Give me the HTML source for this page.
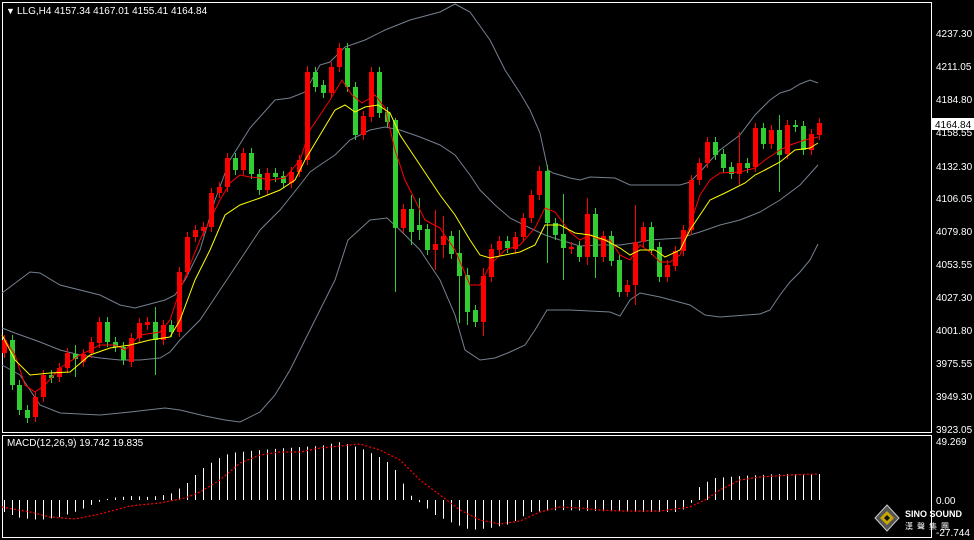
<!DOCTYPE html>
<html><head><meta charset="utf-8"><style>
html,body{margin:0;padding:0;background:#000;width:974px;height:540px;overflow:hidden}
svg{display:block}
text{font-family:"Liberation Sans","Noto Sans CJK TC",sans-serif}
</style></head><body>
<svg id="s" width="974" height="540" xmlns="http://www.w3.org/2000/svg">
<rect width="974" height="540" fill="#000"/>
<rect x="2.5" y="2.5" width="929" height="430" fill="none" stroke="#fff" stroke-width="1"/>
<rect x="2.5" y="435.5" width="929" height="102" fill="none" stroke="#fff" stroke-width="1"/>
<g id="g"></g>
<text x="6" y="14" fill="#fff" font-size="9">▼</text>
<text x="17" y="14" fill="#fff" font-size="10">LLG,H4  4157.34 4167.01 4155.41 4164.84</text>
<text x="7" y="446" fill="#fff" font-size="10">MACD(12,26,9) 19.742 19.835</text>
<g fill="#fff" font-size="10">
<text x="936" y="37">4237.30</text><text x="936" y="70">4211.05</text><text x="936" y="103">4184.80</text>
<text x="936" y="136">4158.55</text><text x="936" y="170">4132.30</text><text x="936" y="202">4106.05</text>
<text x="936" y="235">4079.80</text><text x="936" y="268">4053.55</text><text x="936" y="301">4027.30</text>
<text x="936" y="334">4001.80</text><text x="936" y="367">3975.55</text><text x="936" y="400">3949.30</text>
<text x="936" y="433">3923.05</text>
<text x="936" y="445">49.269</text><text x="936" y="504">0.00</text><text x="936" y="536">-27.744</text>
</g>
<rect x="932" y="118" width="42" height="12" fill="#fff"/>
<text x="935" y="128" fill="#000" font-size="10">4164.84</text>
<g transform="translate(887,518)">
<polygon points="0,-13 12,0 0,13 -12,0" fill="#555" stroke="#ccc" stroke-width="1"/>
<polygon points="0,-7 7,0 0,7 -7,0" fill="#c8a800"/>
<polygon points="0,-3 3,0 0,3 -3,0" fill="#111"/>
</g>
<text x="905" y="517" fill="#fff" font-size="9" font-weight="bold">SINO SOUND</text>
<text x="905" y="529" fill="#fff" font-size="8" letter-spacing="4">漢聲集團</text>
</svg>
<script>
var C=[
[4,340,353,'r'],[12,340,385,'g'],[19,385,410,'g'],[27,410,418,'g'],[35,397,417,'r'],[43,375,397,'r'],[51,375,378,'g'],[59,368,377,'r'],[67,353,368,'r'],[75,354,359,'g'],[83,354,362,'r'],[91,342,353,'r'],[99,322,343,'r'],[107,322,342,'g'],[115,342,347,'g'],[123,347,360,'g'],[131,338,362,'r'],[139,323,338,'r'],[147,322,325,'r'],[155,322,340,'g'],[163,325,340,'r'],[171,325,332,'g'],[179,272,332,'r'],[187,237,272,'r'],[195,230,237,'r'],[203,227,231,'r'],[211,193,227,'r'],[219,187,193,'r'],[227,158,187,'r'],[235,158,170,'g'],[243,153,170,'r'],[251,153,174,'g'],[259,174,190,'g'],[267,173,190,'r'],[275,173,177,'g'],[283,176,183,'g'],[291,172,183,'r'],[299,160,172,'r'],[307,72,160,'r'],[315,72,87,'g'],[323,85,93,'g'],[331,67,93,'r'],[339,48,67,'r'],[347,48,87,'g'],[355,87,135,'g'],[363,116,135,'r'],[371,72,117,'r'],[379,72,113,'g'],[387,112,122,'g'],[395,120,228,'g'],[403,209,228,'r'],[411,209,232,'g'],[419,225,230,'g'],[427,229,250,'g'],[435,244,250,'r'],[443,236,245,'r'],[451,236,254,'g'],[459,253,276,'g'],[467,275,312,'g'],[475,310,322,'g'],[483,276,322,'r'],[491,249,277,'r'],[499,241,250,'r'],[507,241,248,'g'],[515,237,249,'r'],[523,218,237,'r'],[531,195,218,'r'],[539,171,195,'r'],[547,171,223,'g'],[555,223,235,'g'],[563,234,248,'g'],[571,247,249,'r'],[579,246,257,'g'],[587,214,257,'r'],[595,214,257,'g'],[603,236,257,'r'],[611,236,261,'g'],[619,260,292,'g'],[627,285,292,'r'],[635,242,285,'r'],[643,227,242,'r'],[651,227,250,'g'],[659,247,277,'g'],[667,265,277,'r'],[675,251,266,'r'],[683,230,251,'r'],[691,180,230,'r'],[699,163,180,'r'],[707,142,163,'r'],[715,142,155,'g'],[723,154,168,'g'],[731,167,174,'g'],[739,163,174,'r'],[747,163,168,'g'],[755,128,167,'r'],[763,128,144,'g'],[771,130,144,'r'],[779,130,155,'g'],[787,125,154,'r'],[795,125,127,'g'],[803,126,150,'g'],[811,134,150,'r'],[819,123,135,'r']];
var W={395:[118,292],343:[23,100],307:[66,165],411:[195,245],419:[198,240],435:[210,270],443:[216,258],547:[165,263],563:[194,280],587:[198,265],595:[208,278],459:[230,323],467:[268,325],483:[268,336],635:[205,305],155:[307,375],75:[345,377],779:[115,192],739:[132,185]};
function pl(p,c,w,d){return '<polyline fill="none" stroke="'+c+'" stroke-width="'+w+'"'+(d?' stroke-dasharray="'+d+'"':'')+' points="'+p.map(function(a){return a.join(',')}).join(' ')+'"/>';}
var up=[[2,293],[30,272],[40,273],[60,285],[100,295],[120,305],[135,308],[150,304],[165,300],[175,295],[185,280],[200,250],[215,200],[230,160],[250,128],[275,100],[290,98],[305,92],[320,65],[330,62],[345,47],[365,40],[385,30],[410,20],[440,12],[455,4],[470,12],[490,40],[505,70],[520,93],[530,110],[540,133],[548,170],[553,173],[570,178],[580,180],[590,177],[615,178],[630,185],[640,185],[680,185],[690,182],[700,172],[720,150],[740,135],[755,115],[770,100],[780,93],[790,90],[800,84],[810,80],[818,83]];
var mid=[[2,328],[15,333],[40,342],[60,350],[80,355],[100,358],[120,360],[140,360],[160,358],[170,352],[180,340],[200,320],[220,290],[240,260],[260,230],[280,210],[300,185],[310,172],[320,165],[335,155],[350,140],[370,130],[385,127],[400,130],[420,137],[440,145],[455,155],[470,175],[480,190],[495,205],[510,218],[530,228],[545,235],[560,240],[580,246],[600,245],[620,245],[640,242],[650,240],[680,238],[700,232],[720,225],[740,220],[760,212],[780,200],[800,185],[818,165]];
var lo=[[2,365],[20,375],[40,405],[60,413],[100,415],[130,412],[165,408],[180,410],[205,416],[225,420],[240,422],[260,412],[275,395],[290,370],[305,340],[320,310],[335,280],[348,240],[370,220],[387,218],[400,230],[420,250],[440,280],[455,315],[465,350],[480,360],[495,358],[510,352],[525,345],[535,330],[547,310],[570,310],[590,311],[610,312],[620,316],[630,300],[640,293],[660,297],[690,305],[705,315],[720,317],[760,314],[770,310],[780,295],[790,282],[800,272],[810,260],[818,244]];
var red=[[2,335],[15,355],[25,385],[35,392],[45,385],[60,368],[80,355],[100,345],[115,345],[125,350],[140,335],[160,332],[170,320],[180,290],[190,265],[200,240],[210,220],[220,200],[230,183],[240,175],[250,177],[260,178],[270,180],[285,178],[300,160],[310,130],[320,115],[330,100],[342,80],[352,95],[362,103],[375,95],[385,108],[395,150],[405,180],[415,200],[425,220],[440,228],[455,250],[470,285],[480,285],[490,265],[505,250],[520,245],[535,228],[545,208],[555,212],[570,232],[580,240],[590,235],[600,240],[610,240],[620,255],[630,260],[640,245],[650,252],[660,262],[670,262],[680,255],[690,225],[700,195],[710,180],[720,173],[740,172],[755,168],[765,160],[780,150],[790,145],[805,140],[818,137]];
var yel=[[2,335],[15,360],[30,375],[50,373],[70,372],[90,355],[110,348],[130,345],[150,340],[170,337],[180,320],[195,280],[210,250],[225,215],[240,205],[260,198],[280,190],[295,180],[305,160],[320,135],[335,110],[345,105],[355,112],[365,107],[378,105],[390,113],[400,135],[420,165],[440,195],[455,215],[470,240],[480,255],[490,258],[505,255],[520,252],[535,245],[545,225],[560,225],[575,233],[590,235],[605,240],[620,248],[630,255],[640,250],[655,250],[665,257],[680,250],[690,230],[700,215],[710,200],[725,193],[745,183],[755,175],[765,170],[780,162],[795,150],[810,148],[818,143]];
var sig=[[2,507],[30,512],[50,517],[75,519],[100,514],[130,506],[160,503],[185,498],[200,492],[220,480],[240,463],[260,455],[280,452],[300,452],[320,448],[340,446],[360,444],[380,450],[400,460],[420,480],[440,495],[460,510],[480,520],[500,524],[520,521],[540,512],[560,507],[580,508],[600,510],[620,511],[660,511],[690,507],[705,500],[720,490],[740,480],[760,477],[790,475],[818,474]];
var hp=[[4,512],[20,518],[40,520],[60,517],[80,510],[95,503],[110,498],[130,496],[150,497],[170,494],[185,485],[200,470],[215,460],[230,453],[260,450],[300,447],[320,446],[340,442],[360,448],[375,455],[385,460],[395,470],[402,482],[410,495],[420,503],[435,515],[450,522],[470,530],[490,528],[510,524],[530,512],[560,510],[600,511],[640,512],[680,512],[692,502],[700,485],[715,478],[740,476],[780,474],[819,474]];
function it(p,x){for(var i=0;i<p.length-1;i++){if(x>=p[i][0]&&x<=p[i+1][0]){var t=(x-p[i][0])/(p[i+1][0]-p[i][0]);return p[i][1]+t*(p[i+1][1]-p[i][1]);}}return p[p.length-1][1];}
var h='';
C.forEach(function(c){var x=c[0],y=it(hp,x);h+='<line x1="'+(x+.5)+'" x2="'+(x+.5)+'" y1="500" y2="'+y.toFixed(1)+'" stroke="#fff" stroke-width="1"/>';});
h+=pl(sig,'#f00',1.2,'2,2');
h+=pl(up,'#75808f',1)+pl(mid,'#75808f',1)+pl(lo,'#75808f',1);
C.forEach(function(c){var x=c[0],t=c[1],b=c[2],col=c[3]=='r'?'#ff0000':'#32cd32';var w=W[x]||[t-5,b+5];
h+='<line x1="'+(x+.5)+'" x2="'+(x+.5)+'" y1="'+w[0]+'" y2="'+w[1]+'" stroke="'+col+'" stroke-width="1"/>';
h+='<rect x="'+(x-2)+'" y="'+t+'" width="5" height="'+Math.max(1,b-t)+'" fill="'+col+'"/>';});
h+=pl(red,'#ff0000',1)+pl(yel,'#ffff00',1);
document.getElementById('g').innerHTML=h;
</script>
</body></html>
